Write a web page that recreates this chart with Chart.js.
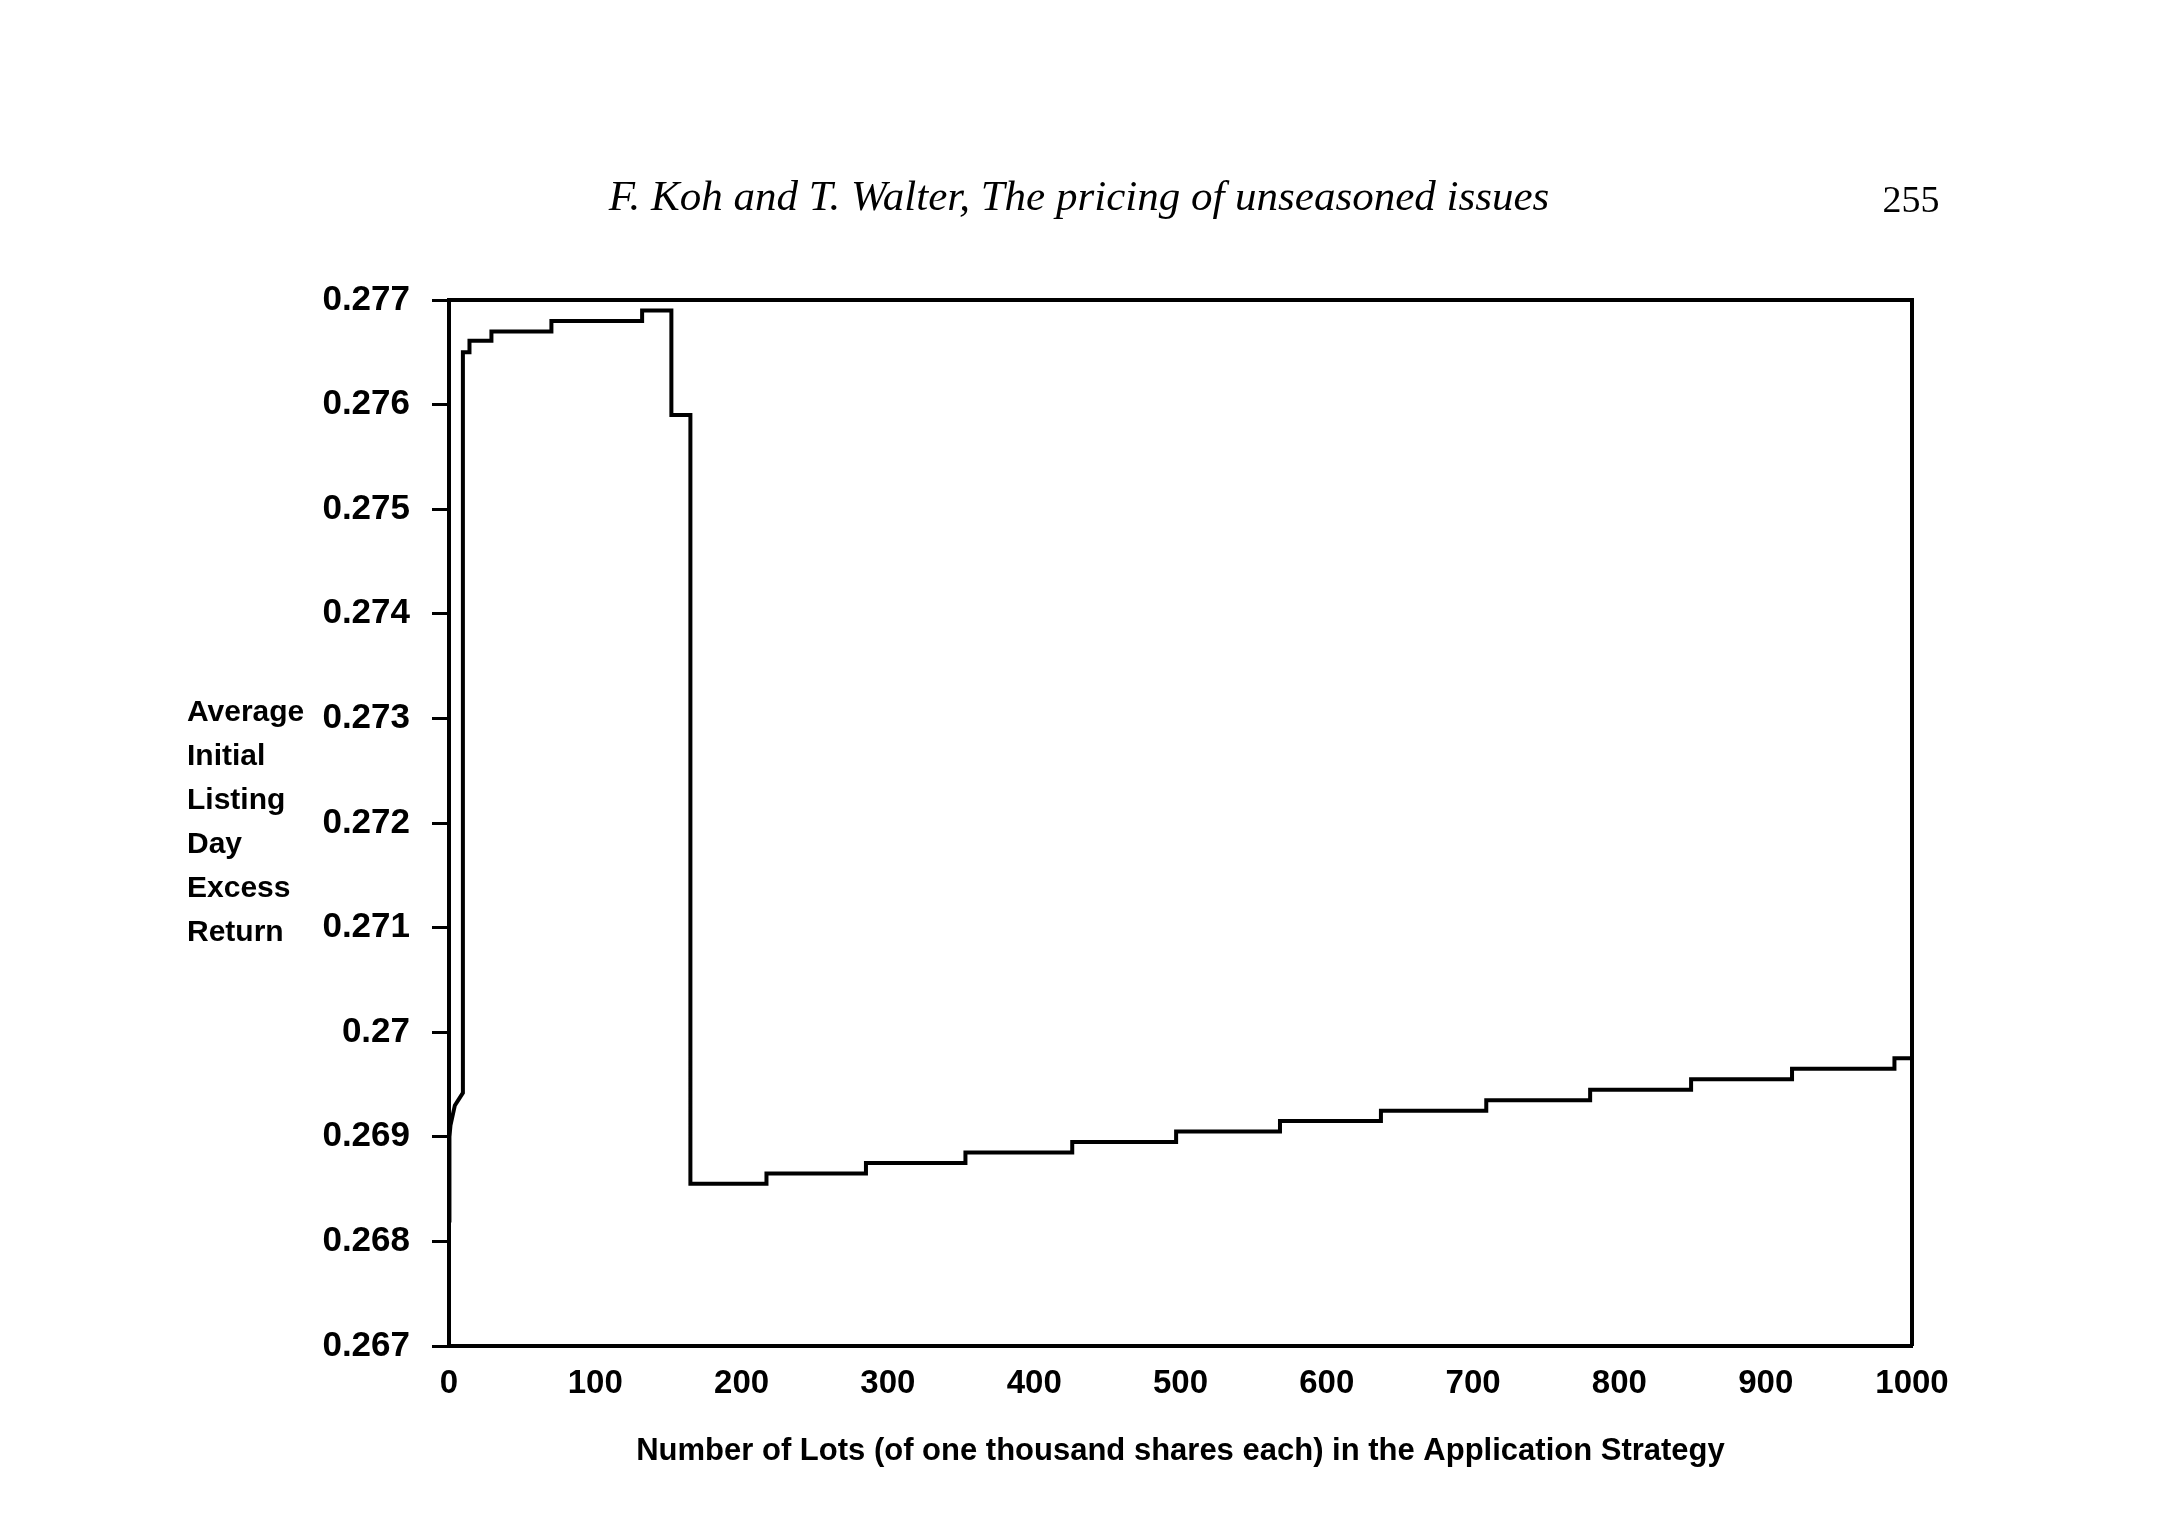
<!DOCTYPE html>
<html>
<head>
<meta charset="utf-8">
<script src="https://cdn.jsdelivr.net/npm/chart.js@4.4.1/dist/chart.umd.min.js"></script>
<style>
  html, body { margin: 0; padding: 0; background: #fff; }
  #wrap { position: relative; width: 2159px; height: 1535px; }
</style>
</head>
<body>
<div id="wrap"><canvas id="chart"></canvas></div>
<script>
// === DATEN ===
// Anfangsrampe direkt an der y-Achse (x = Lots, y = Rendite)
const rampX = [0, 0.3, 1, 4, 9.5];
const rampY = [0.2682, 0.2690, 0.26911, 0.2693, 0.26942];

// Treppenstufen: ab stepX[i] gilt stepY[i]
const stepX = [9.5, 14, 29, 70, 132, 152, 165, 217, 285, 353, 426, 497, 568, 637, 709, 780, 849, 918, 988];
const stepY = [0.27650, 0.27661, 0.27670, 0.27680, 0.27690, 0.27590, 0.26855, 0.26865, 0.26875,
               0.26885, 0.26895, 0.26905, 0.26915, 0.26925, 0.26935, 0.26945, 0.26955, 0.26965, 0.26975];
const lastX = 1000;

// Achsenbeschriftung
const xTicks = [0, 100, 200, 300, 400, 500, 600, 700, 800, 900, 1000];
const xTickLabels = ['0', '100', '200', '300', '400', '500', '600', '700', '800', '900', '1000'];
const yTicks = [0.267, 0.268, 0.269, 0.270, 0.271, 0.272, 0.273, 0.274, 0.275, 0.276, 0.277];
const yTickLabels = ['0.267', '0.268', '0.269', '0.27', '0.271', '0.272', '0.273', '0.274', '0.275', '0.276', '0.277'];

const xTitle = 'Number of Lots (of one thousand shares each) in the Application Strategy';
const yTitleLines = ['Average', 'Initial', 'Listing', 'Day', 'Excess', 'Return'];
const headerText = 'F. Koh and T. Walter, The pricing of unseasoned issues';
const pageNumber = '255';

// Linienpunkte aus Rampe + Stufen zusammenbauen
const linePoints = rampX.map((x, i) => ({ x: x, y: rampY[i] }));
let prevY = rampY[rampY.length - 1];
stepX.forEach((x, i) => {
  linePoints.push({ x: x, y: prevY });
  linePoints.push({ x: x, y: stepY[i] });
  prevY = stepY[i];
});
linePoints.push({ x: lastX, y: prevY });

// Rahmen oben/rechts + Seitenkopf + y-Titel
const pagePlugin = {
  id: 'pageDecor',
  afterDatasetsDraw(chart) {
    const { ctx, chartArea: a } = chart;
    ctx.save();
    ctx.strokeStyle = '#000';
    ctx.lineWidth = 4;
    ctx.beginPath();
    ctx.moveTo(a.left, a.top);
    ctx.lineTo(a.right, a.top);
    ctx.lineTo(a.right, a.bottom);
    ctx.stroke();
    ctx.restore();
  },
  afterDraw(chart) {
    const ctx = chart.ctx;
    ctx.save();
    ctx.fillStyle = '#000';
    ctx.textBaseline = 'middle';
    ctx.textAlign = 'center';
    ctx.font = 'italic 43px "Liberation Serif"';
    ctx.fillText(headerText, 1079, 199);
    ctx.font = '38px "Liberation Serif"';
    ctx.fillText(pageNumber, 1911, 202);
    ctx.textAlign = 'left';
    ctx.font = 'bold 30px "Liberation Sans"';
    yTitleLines.forEach((t, i) => ctx.fillText(t, 187, 713 + i * 44));
    ctx.restore();
  }
};

new Chart(document.getElementById('chart'), {
  type: 'line',
  data: {
    datasets: [{
      data: linePoints,
      borderColor: '#000',
      borderWidth: 4,
      pointRadius: 0,
      fill: false,
      tension: 0
    }]
  },
  options: {
    responsive: true,
    maintainAspectRatio: false,
    animation: false,
    layout: { padding: { left: 0, right: 247, top: 300, bottom: 0 } },
    plugins: {
      legend: { display: false },
      tooltip: { enabled: false }
    },
    scales: {
      x: {
        type: 'linear',
        min: 0,
        max: 1000,
        afterBuildTicks: s => { s.ticks = xTicks.map(v => ({ value: v })); },
        afterFit: s => { s.height = 189; },
        ticks: {
          color: '#000',
          padding: 18,
          maxRotation: 0,
          autoSkip: false,
          callback: (v, i) => xTickLabels[i],
          font: { family: '"Liberation Sans"', weight: 'bold', size: 33 }
        },
        grid: { drawOnChartArea: false, drawTicks: false, color: '#000' },
        border: { color: '#000', width: 4 },
        title: {
          display: true,
          text: xTitle,
          color: '#000',
          padding: { top: 0, bottom: 65 },
          font: { family: '"Liberation Sans"', weight: 'bold', size: 31 }
        }
      },
      y: {
        type: 'linear',
        min: 0.267,
        max: 0.277,
        afterBuildTicks: s => { s.ticks = yTicks.map(v => ({ value: v })); },
        afterFit: s => { s.width = 449; },
        ticks: {
          color: '#000',
          padding: 22,
          callback: (v, i) => yTickLabels[i],
          font: { family: '"Liberation Sans"', weight: 'bold', size: 35 }
        },
        grid: { drawOnChartArea: false, drawTicks: true, tickLength: 17, tickWidth: 3, tickColor: '#000' },
        border: { color: '#000', width: 4 }
      }
    }
  },
  plugins: [pagePlugin]
});
</script>
</body>
</html>
